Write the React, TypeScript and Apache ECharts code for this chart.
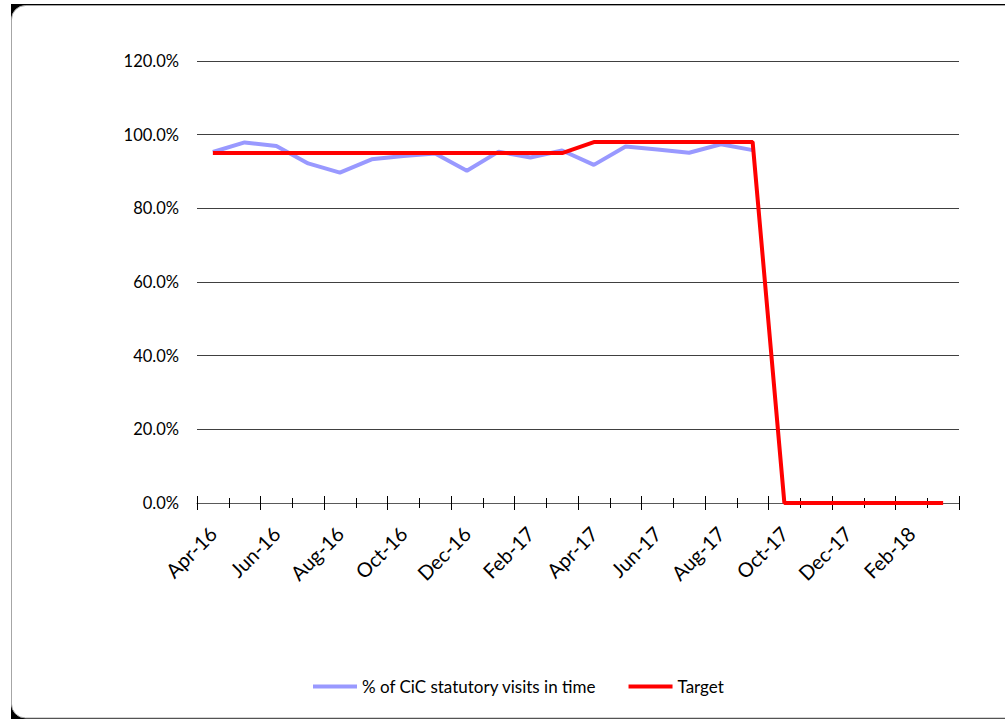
import React, { useEffect, useRef } from "react";
import * as echarts from "echarts";

const categories = [
  "Apr-16", "May-16", "Jun-16", "Jul-16", "Aug-16", "Sep-16",
  "Oct-16", "Nov-16", "Dec-16", "Jan-17", "Feb-17", "Mar-17",
  "Apr-17", "May-17", "Jun-17", "Jul-17", "Aug-17", "Sep-17",
  "Oct-17", "Nov-17", "Dec-17", "Jan-18", "Feb-18", "Mar-18",
];

const visitsInTime: (number | null)[] = [
  0.953, 0.979, 0.969, 0.922, 0.897, 0.933,
  0.942, 0.949, 0.902, 0.954, 0.938, 0.957,
  0.918, 0.968, 0.960, 0.951, 0.974, 0.958,
  null, null, null, null, null, null,
];

const target = [
  0.95, 0.95, 0.95, 0.95, 0.95, 0.95,
  0.95, 0.95, 0.95, 0.95, 0.95, 0.95,
  0.98, 0.98, 0.98, 0.98, 0.98, 0.98,
  0, 0, 0, 0, 0, 0,
];

const seriesNames = ["% of CiC statutory visits in time", "Target"];

const FONT = "Lato";

export default function App() {
  const ref = useRef<HTMLDivElement>(null);
  useEffect(() => {
    if (!ref.current) return;
    const chart = echarts.init(ref.current, null, { renderer: "svg" });
    const tickAxis = (inside: boolean, length: number, interval: number) => ({
      type: "category",
      data: categories,
      position: "bottom",
      boundaryGap: true,
      axisLine: { show: false },
      axisLabel: { show: false },
      axisTick: {
        show: true,
        inside,
        length,
        interval,
        lineStyle: { color: "#000", width: 1 },
      },
      splitLine: { show: false },
    });
    chart.setOption({
      animation: false,
      backgroundColor: "transparent",
      textStyle: { fontFamily: FONT },
      graphic: [
        {
          type: "rect",
          shape: { x: 11, y: 4, width: 994, height: 715 },
          style: { fill: "#000" },
          z: -10,
          silent: true,
        },
        {
          type: "rect",
          shape: { x: 11.5, y: 5.5, width: 1000, height: 712.5, r: [14, 0, 0, 14] },
          style: { fill: "#fff", stroke: "#a6a6a6", lineWidth: 1 },
          z: -9,
          silent: true,
        },
      ],
      grid: { left: 197, right: 46, top: 61, bottom: 217, containLabel: false },
      legend: {
        left: 308,
        top: 673,
        itemWidth: 44,
        itemHeight: 4,
        itemGap: 32,
        icon: "rect",
        textStyle: { fontFamily: FONT, fontSize: 17, color: "#000" },
        data: seriesNames,
      },
      xAxis: [
        {
          type: "category",
          data: categories,
          boundaryGap: true,
          position: "bottom",
          axisLine: { show: true, lineStyle: { color: "#595959", width: 1 } },
          axisTick: { show: true, length: 7, interval: 1, lineStyle: { color: "#000" } },
          axisLabel: {
            interval: 1,
            rotate: 45,
            margin: 27,
            fontSize: 20,
            fontFamily: FONT,
            color: "#000",
          },
          splitLine: { show: false },
        },
        tickAxis(false, 5, 0),
        tickAxis(true, 7, 1),
        tickAxis(true, 5, 0),
      ],
      yAxis: {
        type: "value",
        min: 0,
        max: 1.2,
        interval: 0.2,
        axisLine: { show: false },
        axisTick: { show: false },
        axisLabel: {
          margin: 18,
          fontSize: 16.5,
          fontFamily: FONT,
          color: "#000",
          formatter: (v: number) => (v * 100).toFixed(1) + "%",
        },
        splitLine: { show: true, lineStyle: { color: "#404040", width: 1 } },
      },
      series: [
        {
          name: seriesNames[0],
          type: "line",
          data: visitsInTime,
          xAxisIndex: 0,
          showSymbol: false,
          symbol: "none",
          lineStyle: { color: "#9999ff", width: 4 },
          itemStyle: { color: "#9999ff" },
          connectNulls: false,
          z: 2,
        },
        {
          name: seriesNames[1],
          type: "line",
          data: target,
          xAxisIndex: 0,
          showSymbol: false,
          symbol: "none",
          lineStyle: { color: "#ff0000", width: 4 },
          itemStyle: { color: "#ff0000" },
          z: 3,
        },
      ],
    });
    return () => chart.dispose();
  }, []);
  return (
    <div
      ref={ref}
      style={{ position: "fixed", left: 0, top: 0, width: 1005, height: 720, background: "#fff" }}
    />
  );
}
